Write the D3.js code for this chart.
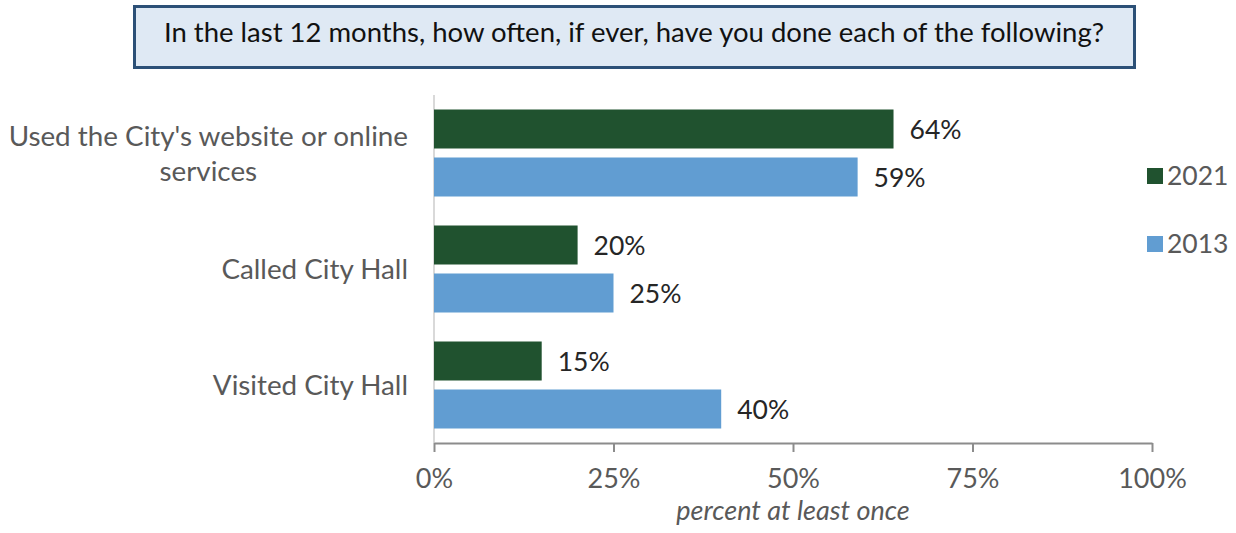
<!DOCTYPE html>
<html><head><meta charset="utf-8">
<script src="https://cdn.jsdelivr.net/npm/d3@7"></script>
<style>body{margin:0;background:#fff;} text{font-family:Lato, "Open Sans", sans-serif;}</style>
</head><body>
<svg id="c" width="1236" height="533"></svg>
<script>
const categories = [["Used the City's website or online", "services"], ["Called City Hall"], ["Visited City Hall"]];
const seriesNames = ["2021", "2013"];
const values2021 = [64, 20, 15];
const values2013 = [59, 25, 40];
const tickValues = [0, 25, 50, 75, 100];
const colors = ["#20522F", "#619DD2"];
const title = "In the last 12 months, how often, if ever, have you done each of the following?";
const xTitle = "percent at least once";

const svg = d3.select("#c");
const L = 434, R = 1152, T = 95, B = 443;
const FS = 27;
const x = d3.scaleLinear().domain([0, 100]).range([L, R]);
const y = d3.scaleBand().domain(d3.range(categories.length)).range([T, B]).paddingInner(0.25).paddingOuter(0.125);
const y1 = d3.scaleBand().domain(seriesNames).range([0, y.bandwidth()]).paddingInner(0.1875);
const series = [values2021, values2013];

// title box
svg.append("rect").attr("x", 134.5).attr("y", 6.5).attr("width", 1000).attr("height", 61)
  .attr("fill", "#DFE9F4").attr("stroke", "#2C5077").attr("stroke-width", 3);
svg.append("text").attr("x", 634).attr("y", 42).attr("text-anchor", "middle")
  .attr("font-size", 27.5).attr("fill", "#111").text(title);

// y axis line
svg.append("line").attr("x1", L).attr("x2", L).attr("y1", T).attr("y2", B).attr("stroke", "#d9d9d9").attr("stroke-width", 2);

// bars
categories.forEach((cat, i) => {
  seriesNames.forEach((s, j) => {
    const v = series[j][i];
    const yy = y(i) + y1(s);
    svg.append("rect").attr("x", x(0)).attr("y", yy).attr("width", x(v) - x(0)).attr("height", y1.bandwidth())
      .attr("fill", colors[j]);
    svg.append("text").attr("x", x(v) + 16).attr("y", yy + y1.bandwidth() / 2 + 10)
      .attr("font-size", 26.5).attr("fill", "#262626").text(v + "%");
  });
  const cy = y(i) + y.bandwidth() / 2;
  const n = cat.length;
  const g = svg.append("g");
  const texts = cat.map((line, k) => g.append("text").attr("y", cy + 10 + (k - (n - 1) / 2) * 35)
      .attr("text-anchor", "middle").attr("font-size", 27.8).attr("fill", "#595959").text(line));
  const maxW = d3.max(texts, t => t.node().getComputedTextLength());
  texts.forEach(t => t.attr("x", 408 - maxW / 2));
});

// x axis
const ax = svg.append("g").attr("transform", `translate(0,${B})`)
  .call(d3.axisBottom(x).tickValues(tickValues).tickFormat(d => d + "%").tickSize(9).tickSizeOuter(0));
ax.select(".domain").attr("stroke", "#8c8c8c").attr("stroke-width", 2);
ax.selectAll(".tick line").attr("stroke", "#8c8c8c").attr("stroke-width", 2);
ax.selectAll(".tick text").attr("font-size", FS).attr("fill", "#595959").attr("dy", 0).attr("y", 45)
  .style("font-family", "Lato, sans-serif");
svg.append("text").attr("x", 793).attr("y", 520).attr("text-anchor", "middle")
  .attr("font-size", 27).attr("font-style", "italic").attr("fill", "#595959").text(xTitle);

// legend
seriesNames.forEach((s, j) => {
  const ly = 176 + j * 68;
  svg.append("rect").attr("x", 1147).attr("y", ly - 8).attr("width", 16).attr("height", 16).attr("fill", colors[j]);
  svg.append("text").attr("x", 1167).attr("y", ly + 9).attr("font-size", 26.5).attr("fill", "#595959").text(s);
});
</script>
</body></html>
